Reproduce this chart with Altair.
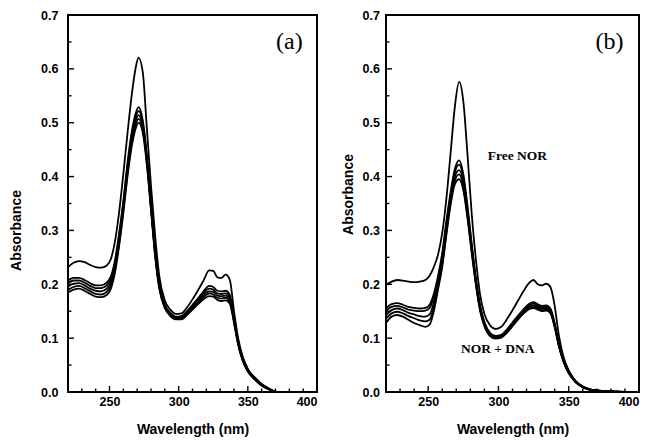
import altair as alt
import pandas as pd

# ---------------- data ----------------
WL_A = [220, 224, 228, 232, 236, 240, 244, 248, 251, 254, 257, 260, 263, 266, 269, 271,
        274, 277, 280, 283, 286, 290, 294, 298, 302, 306, 310, 314, 318, 322, 325, 328,
        331, 334, 337, 340, 343, 346, 350, 355, 360, 365, 370]

A_FREE = [.232, .240, .243, .241, .236, .232, .231, .235, .247, .280, .335, .405, .480, .550, .603, .621,
          .595, .490, .383, .290, .215, .170, .153, .145, .146, .157, .172, .189, .207, .226, .225, .213,
          .212, .218, .208, .150, .100, .068, .043, .025, .013, .006, .000]
A_L1 = [.207, .212, .212, .208, .202, .198, .198, .203, .215, .245, .295, .355, .425, .482, .518, .529,
        .505, .440, .350, .262, .200, .162, .147, .140, .141, .150, .162, .174, .187, .197, .195, .188,
        .187, .188, .180, .140, .095, .066, .042, .027, .015, .007, .000]
A_L2 = [.202, .207, .207, .203, .197, .193, .193, .198, .210, .240, .290, .350, .419, .476, .511, .522,
        .500, .436, .347, .260, .198, .160, .146, .139, .140, .148, .160, .172, .184, .192, .190, .183,
        .182, .183, .176, .137, .093, .064, .041, .026, .014, .006, .000]
A_L3 = [.196, .201, .202, .198, .192, .188, .187, .192, .204, .234, .284, .344, .412, .468, .504, .514,
        .494, .431, .344, .257, .196, .159, .144, .137, .138, .146, .157, .168, .180, .187, .186, .179,
        .178, .179, .172, .134, .091, .063, .040, .025, .013, .006, .000]
A_L4 = [.190, .195, .197, .193, .187, .182, .181, .186, .198, .228, .278, .338, .406, .461, .497, .507,
        .488, .426, .341, .255, .194, .157, .142, .136, .136, .144, .155, .165, .176, .183, .181, .175,
        .174, .175, .168, .131, .089, .061, .039, .024, .012, .005, .000]
A_L5 = [.185, .190, .192, .188, .182, .177, .176, .180, .192, .222, .272, .332, .400, .455, .490, .500,
        .482, .422, .338, .252, .192, .156, .141, .135, .135, .143, .153, .163, .172, .178, .177, .171,
        .169, .170, .164, .128, .088, .060, .038, .023, .012, .005, .000]

WL_B = [220, 224, 228, 232, 236, 240, 244, 248, 251, 254, 257, 260, 263, 266, 269, 272,
        275, 278, 281, 284, 287, 290, 294, 298, 302, 306, 310, 314, 318, 322, 325, 328,
        331, 334, 337, 340, 343, 346, 350, 355, 360, 365, 370, 380, 390]

B_FREE = [.199, .205, .208, .207, .205, .204, .205, .208, .216, .232, .255, .295, .360, .445, .530, .576,
          .540, .440, .330, .245, .180, .145, .124, .117, .121, .135, .152, .170, .188, .203, .208, .200,
          .198, .201, .195, .160, .105, .068, .040, .020, .010, .005, .003, .001, .000]
B_L1 = [.155, .163, .165, .162, .158, .156, .155, .156, .162, .182, .215, .258, .318, .372, .414, .430,
        .405, .345, .275, .210, .160, .130, .110, .104, .106, .116, .129, .142, .154, .164, .167, .163,
        .160, .161, .155, .128, .090, .062, .038, .020, .010, .005, .003, .001, .000]
B_L2 = [.150, .158, .160, .157, .153, .151, .150, .151, .156, .176, .209, .252, .312, .366, .408, .422,
        .398, .339, .271, .207, .158, .128, .109, .103, .105, .114, .127, .140, .152, .161, .164, .160,
        .157, .158, .152, .126, .089, .061, .037, .019, .010, .005, .003, .001, .000]
B_L3 = [.143, .152, .155, .152, .147, .144, .141, .140, .144, .166, .202, .245, .305, .360, .400, .412,
        .390, .333, .266, .204, .156, .126, .107, .101, .103, .113, .125, .138, .150, .159, .161, .157,
        .155, .156, .150, .124, .088, .060, .036, .019, .009, .005, .002, .001, .000]
B_L4 = [.136, .146, .149, .146, .141, .137, .133, .131, .134, .158, .196, .238, .298, .354, .393, .404,
        .382, .327, .262, .201, .153, .124, .105, .100, .102, .111, .124, .136, .148, .156, .158, .155,
        .152, .153, .148, .122, .086, .059, .035, .018, .009, .004, .002, .001, .000]
B_L5 = [.128, .140, .143, .140, .134, .128, .124, .121, .125, .150, .190, .232, .292, .348, .386, .395,
        .375, .322, .258, .198, .150, .122, .104, .099, .101, .110, .122, .135, .146, .154, .156, .153,
        .150, .151, .146, .120, .085, .058, .035, .018, .009, .004, .002, .001, .000]

X_LABELS = [250, 300, 350, 400]
Y_LABELS = [0.0, 0.1, 0.2, 0.3, 0.4, 0.5, 0.6, 0.7]
X_MAJOR_TICKS = [250, 300, 350]
X_MINOR_TICKS = [230, 240, 260, 270, 280, 290, 310, 320, 330, 340, 360, 370, 380, 390]
Y_MAJOR_TICKS = [0.1, 0.2, 0.3, 0.4, 0.5, 0.6]
Y_MINOR_TICKS = [0.05, 0.15, 0.25, 0.35, 0.45, 0.55, 0.65]

NOTES_A = {"text": ["(a)"], "wl": [380], "abs": [0.650]}
NOTES_B_PANEL = {"text": ["(b)"], "wl": [379], "abs": [0.650]}
NOTES_B = {"text": ["Free NOR", "NOR + DNA"], "wl": [313.5, 299.5], "abs": [0.439, 0.080]}

SANS = "Liberation Sans"
SERIF = "Liberation Serif"
H = 377


def long_df(wl, series):
    rows = []
    for name, vals in series.items():
        for w, v in zip(wl, vals):
            rows.append({"wl": w, "abs": v, "series": name})
    return pd.DataFrame(rows)


def xscale():
    return alt.Scale(domain=[220, 400], nice=False, zero=False)


def yscale():
    return alt.Scale(domain=[0, 0.7], nice=False, zero=True)


def panel(df, width, panel_note, notes, ylabpad, ytitlex, ytitley):
    xaxis = alt.Axis(values=X_LABELS, title="Wavelength (nm)", ticks=False, domain=False,
                     grid=False, labelPadding=3, labelFont=SANS, labelFontWeight="bold",
                     labelFontSize=12.5, labelColor="black", titleFont=SANS,
                     titleFontWeight="bold", titleFontSize=14, titleColor="black",
                     titleY=37, titleBaseline="middle")
    yaxis = alt.Axis(values=Y_LABELS, format=".1f", title="Absorbance", ticks=False,
                     domain=False, grid=False, labelPadding=ylabpad, labelFont=SANS,
                     labelFontWeight="bold", labelFontSize=12.5, labelColor="black",
                     titleFont=SANS, titleFontWeight="bold", titleFontSize=14,
                     titleColor="black", titleX=ytitlex, titleY=ytitley,
                     titleBaseline="middle")

    def X(field):
        return alt.X(field, scale=xscale(), axis=xaxis, title="Wavelength (nm)")

    def Y(field):
        return alt.Y(field, scale=yscale(), axis=yaxis, title="Absorbance")

    lines = alt.Chart(df).mark_line(color="black", strokeWidth=1.8,
                                    interpolate="monotone").encode(
        x=X("wl:Q"), y=Y("abs:Q"), detail="series:N")
    xmaj = alt.Chart(pd.DataFrame({"wl": X_MAJOR_TICKS})).mark_rule(
        color="black", strokeWidth=1.4).encode(
        x=X("wl:Q"), y=alt.value(H), y2=alt.value(H - 6))
    xmin = alt.Chart(pd.DataFrame({"wl": X_MINOR_TICKS})).mark_rule(
        color="black", strokeWidth=1.4).encode(
        x=X("wl:Q"), y=alt.value(H), y2=alt.value(H - 3.5))
    ymaj = alt.Chart(pd.DataFrame({"abs": Y_MAJOR_TICKS})).mark_rule(
        color="black", strokeWidth=1.4).encode(
        y=Y("abs:Q"), x=alt.value(0), x2=alt.value(6))
    ymin = alt.Chart(pd.DataFrame({"abs": Y_MINOR_TICKS})).mark_rule(
        color="black", strokeWidth=1.4).encode(
        y=Y("abs:Q"), x=alt.value(0), x2=alt.value(3.5))
    plabel = alt.Chart(pd.DataFrame(panel_note)).mark_text(
        font=SERIF, fontSize=24, color="black", align="center", baseline="middle").encode(
        x=X("wl:Q"), y=Y("abs:Q"), text="text:N")
    layers = [lines, xmaj, xmin, ymaj, ymin, plabel]
    if notes is not None:
        layers.append(alt.Chart(pd.DataFrame(notes)).mark_text(
            font=SERIF, fontSize=13.5, fontWeight="bold", color="black", align="center",
            baseline="middle").encode(x=X("wl:Q"), y=Y("abs:Q"), text="text:N"))
    return alt.layer(*layers).properties(width=width, height=H)


df_a = long_df(WL_A, {"free": A_FREE, "l1": A_L1, "l2": A_L2, "l3": A_L3, "l4": A_L4, "l5": A_L5})
df_b = long_df(WL_B, {"free": B_FREE, "l1": B_L1, "l2": B_L2, "l3": B_L3, "l4": B_L4, "l5": B_L5})

left = panel(df_a, 249, NOTES_A, None, 10, -52, 215)
right = panel(df_b, 253, NOTES_B_PANEL, NOTES_B, 6.5, -38, 179)

chart = alt.hconcat(left, right, spacing=22).properties(
    padding={"left": 0, "top": 0, "right": 0, "bottom": 0}
).configure_view(stroke="black", strokeWidth=2)

chart.save("out.html", embed_options={"renderer": "svg", "actions": False})
